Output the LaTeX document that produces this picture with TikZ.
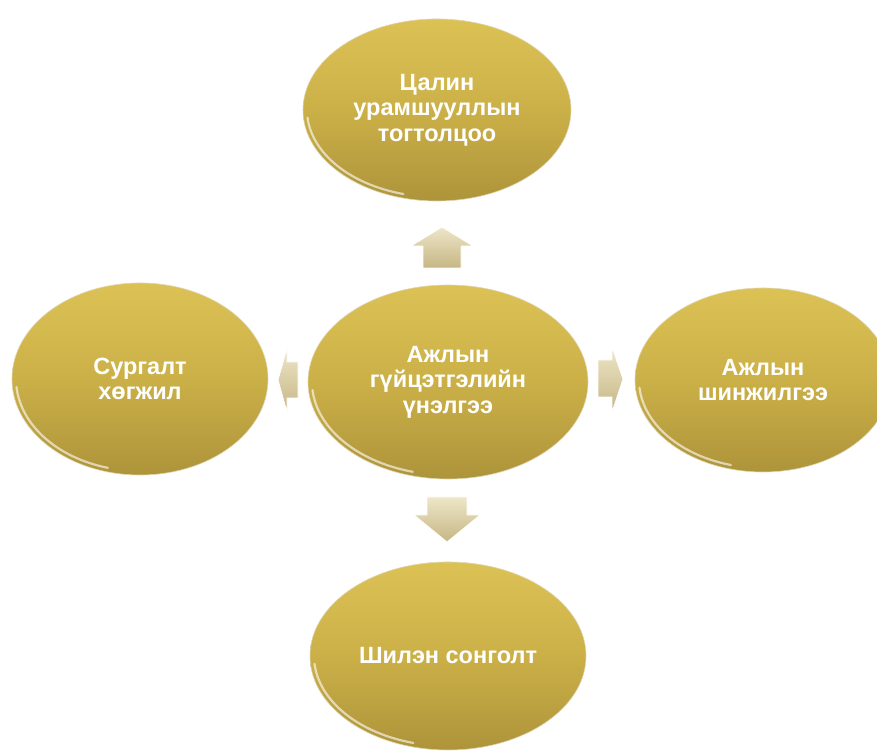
\documentclass[tikz,border=0pt]{standalone}
\usepackage{fontspec}
\setmainfont{Liberation Sans}
\usetikzlibrary{shapes.geometric}
\definecolor{goldtop}{HTML}{DCC255}
\definecolor{goldmid}{HTML}{CBB048}
\definecolor{goldbot}{HTML}{AE943A}
\definecolor{beigetop}{HTML}{EDE6C8}
\definecolor{beigebot}{HTML}{C6B684}
\tikzset{
  bubble/.style={ellipse, inner sep=0pt, top color=goldtop, bottom color=goldbot,
    middle color=goldmid, draw=goldbot!40!white, line width=0.6pt,
    text=white, align=center, font=\fontsize{23.5}{25.5}\selectfont\bfseries},
  rim/.style={white, opacity=0.6, line width=2.2pt, line cap=round},
  blockarrow/.style={top color=beigetop, bottom color=beigebot, draw=white, line width=0.8pt, line join=round}
}
\begin{document}
\begin{tikzpicture}[x=1pt,y=1pt]
\useasboundingbox (0,0) rectangle (877,751);
\clip (0,0) rectangle (877,751);
\fill[white] (0,0) rectangle (877,751);
% bubbles
\node[bubble, minimum width=268, minimum height=182] (tp) at (437,641) {Цалин\\урамшууллын\\тогтолцоо};
\node[bubble, minimum width=280, minimum height=194] (ct) at (448,369) {Ажлын\\гүйцэтгэлийн\\үнэлгээ};
\node[bubble, minimum width=256, minimum height=192] (lf) at (140,372) {Сургалт\\хөгжил};
\node[bubble, minimum width=256, minimum height=184] (rt) at (763,371) {Ажлын\\шинжилгээ};
\node[bubble, minimum width=276, minimum height=188] (bt) at (448,95) {Шилэн сонголт};
% rim highlights
\foreach \n/\a/\b in {tp/130/87, ct/136/93, lf/124/92, rt/124/88, bt/134/90}{
  \draw[rim] ([shift={(185:\a pt and \b pt)}]\n.center) arc[start angle=185, end angle=255, x radius=\a, y radius=\b];
}
% block arrows
\path[blockarrow] (423,483) -- (461,483) -- (461,505) -- (473,505) -- (442,524) -- (411,505) -- (423,505) -- cycle;
\path[blockarrow] (427,254) -- (467,254) -- (467,236) -- (480,236) -- (447,209) -- (414,236) -- (427,236) -- cycle;
\path[blockarrow] (598,354) -- (612,354) -- (612,339) -- (623,372) -- (612,404) -- (612,391) -- (598,391) -- cycle;
\path[blockarrow] (298,353) -- (287,353) -- (287,339) -- (278,371) -- (287,403) -- (287,389) -- (298,389) -- cycle;
\end{tikzpicture}
\end{document}
